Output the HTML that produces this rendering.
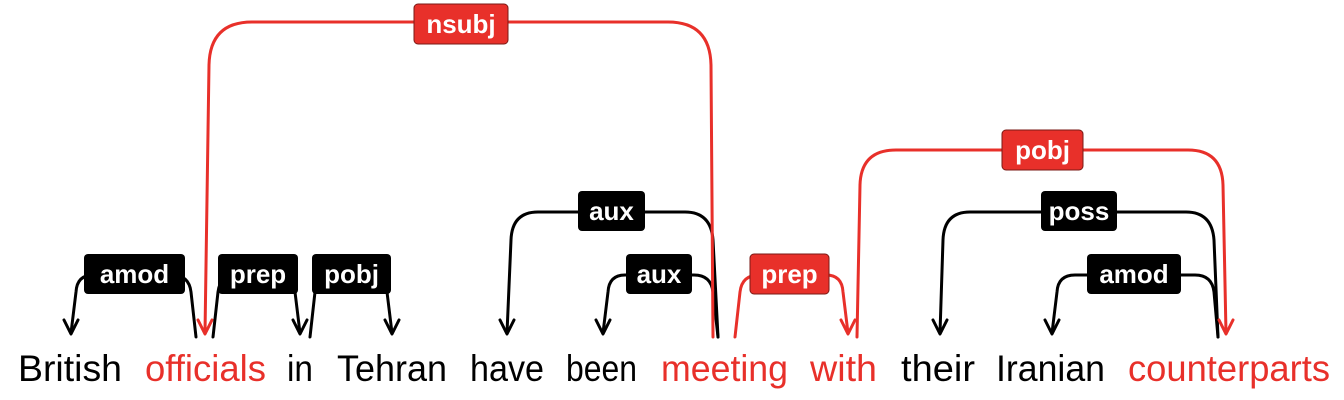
<!DOCTYPE html>
<html><head><meta charset="utf-8"><style>
html,body{margin:0;padding:0;background:#fff;}
svg{display:block;}
</style></head><body>
<svg width="1344" height="400" viewBox="0 0 1344 400" xmlns="http://www.w3.org/2000/svg">
<g fill="none" stroke-width="3" stroke-linecap="round" stroke-linejoin="round">
<path d="M196 337 L191 292 Q189 275 172 275 L93 275 Q77 275 76 292 L71 333" stroke="#000"/>
<path d="M64 320 L71 334 L78 320" stroke="#000"/>
<path d="M213 337 L218 292 Q220 275 237 275 L278 275 Q294 275 295 292 L300 333" stroke="#000"/>
<path d="M293 320 L300 334 L307 320" stroke="#000"/>
<path d="M310 337 L315 292 Q317 275 334 275 L370 275 Q386 275 387 292 L392 333" stroke="#000"/>
<path d="M385 320 L392 334 L399 320" stroke="#000"/>
<path d="M718 337 L713 240 Q711 212 685 212 L538 212 Q512 212 511 240 L507 333" stroke="#000"/>
<path d="M500 320 L507 334 L514 320" stroke="#000"/>
<path d="M718 337 L713 292 Q711 275 694 275 L625 275 Q609 275 608 292 L603 333" stroke="#000"/>
<path d="M596 320 L603 334 L610 320" stroke="#000"/>
<path d="M1218 337 L1214 240 Q1212 212 1186 212 L970 212 Q944 212 943 240 L940 333" stroke="#000"/>
<path d="M933 320 L940 334 L947 320" stroke="#000"/>
<path d="M1218 337 L1214 292 Q1212 275 1195 275 L1075 275 Q1058 275 1057 292 L1052 333" stroke="#000"/>
<path d="M1045 320 L1052 334 L1059 320" stroke="#000"/>
<path d="M713 337 L711 65 Q710 22 668 22 L252 22 Q210 22 209 65 L205 333" stroke="#e8302a"/>
<path d="M198 320 L205 334 L212 320" stroke="#e8302a"/>
<path d="M735 337 L740 292 Q742 275 759 275 L826 275 Q842 275 843 292 L848 333" stroke="#e8302a"/>
<path d="M841 320 L848 334 L855 320" stroke="#e8302a"/>
<path d="M857 337 L860 185 Q861 150 896 150 L1188 150 Q1222 150 1223 185 L1226 333" stroke="#e8302a"/>
<path d="M1219 320 L1226 334 L1233 320" stroke="#e8302a"/>
</g>
<g font-family="Liberation Sans, sans-serif" font-weight="bold" font-size="26" fill="#fff" text-anchor="middle">
<rect x="84" y="254" width="101" height="40" rx="4" fill="#000"/><text x="134.5" y="283">amod</text>
<rect x="218" y="254" width="80" height="40" rx="4" fill="#000"/><text x="258" y="283">prep</text>
<rect x="312" y="254" width="79" height="40" rx="4" fill="#000"/><text x="351.5" y="283">pobj</text>
<rect x="578" y="191" width="67" height="40" rx="4" fill="#000"/><text x="611.5" y="220">aux</text>
<rect x="626" y="254" width="66" height="40" rx="4" fill="#000"/><text x="659" y="283">aux</text>
<rect x="1041" y="191" width="76" height="40" rx="4" fill="#000"/><text x="1079" y="220">poss</text>
<rect x="1087" y="254" width="94" height="40" rx="4" fill="#000"/><text x="1134" y="283">amod</text>
<rect x="414" y="4" width="94" height="40" rx="4" fill="#e8302a" stroke="#7a1a15" stroke-width="1"/><text x="461" y="33">nsubj</text>
<rect x="750" y="254" width="79" height="40" rx="4" fill="#e8302a" stroke="#7a1a15" stroke-width="1"/><text x="789.5" y="283">prep</text>
<rect x="1002" y="130" width="81" height="40" rx="4" fill="#e8302a" stroke="#7a1a15" stroke-width="1"/><text x="1042.5" y="159">pobj</text>
</g>
<g font-family="Liberation Sans, sans-serif" font-size="37" fill="#000">
<text x="18" y="381" textLength="104" lengthAdjust="spacingAndGlyphs">British</text>
<text x="145" y="381" textLength="121" lengthAdjust="spacingAndGlyphs" fill="#e8302a">officials</text>
<text x="287" y="381" textLength="26" lengthAdjust="spacingAndGlyphs">in</text>
<text x="337" y="381" textLength="110" lengthAdjust="spacingAndGlyphs">Tehran</text>
<text x="470" y="381" textLength="74" lengthAdjust="spacingAndGlyphs">have</text>
<text x="566" y="381" textLength="71" lengthAdjust="spacingAndGlyphs">been</text>
<text x="661" y="381" textLength="127" lengthAdjust="spacingAndGlyphs" fill="#e8302a">meeting</text>
<text x="810" y="381" textLength="67" lengthAdjust="spacingAndGlyphs" fill="#e8302a">with</text>
<text x="901" y="381" textLength="74" lengthAdjust="spacingAndGlyphs">their</text>
<text x="996" y="381" textLength="109" lengthAdjust="spacingAndGlyphs">Iranian</text>
<text x="1128" y="381" textLength="202" lengthAdjust="spacingAndGlyphs" fill="#e8302a">counterparts</text>
</g>
</svg>
</body></html>
